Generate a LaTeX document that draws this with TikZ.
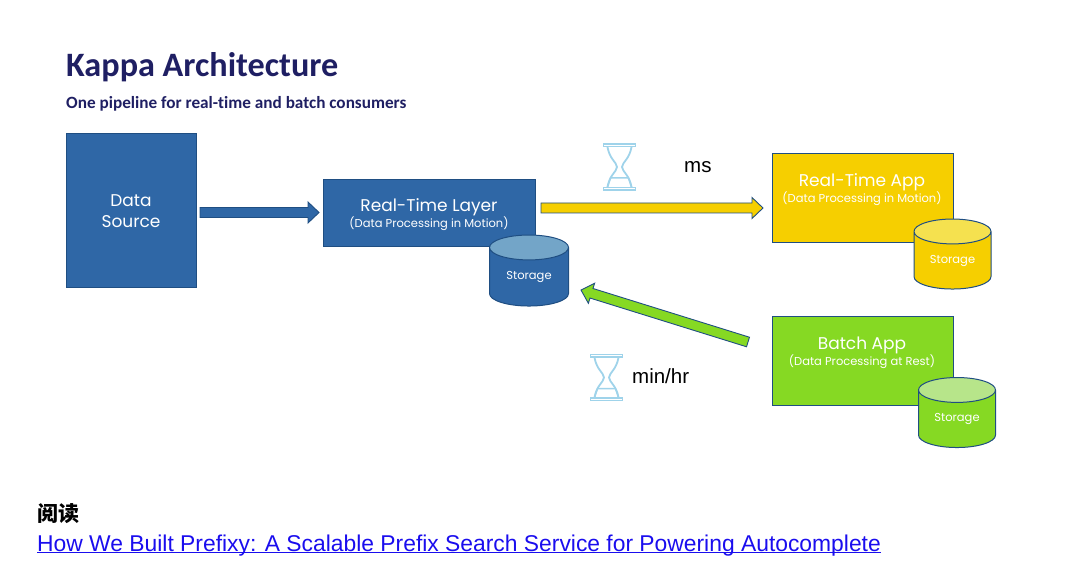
\documentclass[tikz,border=0pt]{standalone}
\usepackage{fontspec}
\setmainfont{Poppins}
\newfontfamily\titlefont[Ligatures=NoCommon]{Carlito}
\newfontfamily\armfont{Liberation Sans}
\newfontfamily\cjk{Noto Sans CJK SC}
\usetikzlibrary{calc}
\usetikzlibrary{shapes.geometric}
\definecolor{kblue}{HTML}{2F67A6}
\definecolor{kblueline}{HTML}{1F4E82}
\definecolor{kbluetop}{HTML}{73A5C8}
\definecolor{kyellow}{HTML}{F6CF00}
\definecolor{kyellowtop}{HTML}{F5E14F}
\definecolor{kgreen}{HTML}{86D923}
\definecolor{kgreentop}{HTML}{B7E58A}
\definecolor{knavy}{HTML}{1F1F63}
\definecolor{kglass}{HTML}{9FD3EA}
\definecolor{klink}{HTML}{1A0DEE}
\newcommand{\px}[1]{\fontsize{#1}{#1}\selectfont}

\begin{document}
\begin{tikzpicture}[x=1pt,y=-1pt]
\tikzstyle{box}=[draw=kblueline, line width=0.9pt, inner sep=0pt, anchor=north west]
\tikzstyle{boxtxt}=[text=white, align=center, inner sep=0pt, font=\px{17}]
\tikzstyle{store}=[draw=kblueline, line width=1pt, shape=cylinder, shape border rotate=90, aspect=0.55, inner sep=0pt, cylinder uses custom fill, text=white, font=\px{11.5}, minimum width=79pt, minimum height=70pt]
\tikzstyle{side}=[font=\armfont\px{20.5}, inner sep=0pt, anchor=base west]
\tikzset{fat/.style={draw=kblueline, line width=0.9pt, fill=#1, to path={
  -- ($(\tikztostart)!5pt!90:(\tikztotarget)$)
  -- ($(\tikztotarget)!11pt!(\tikztostart)!5pt!90:(\tikztotarget)$)
  -- ($(\tikztotarget)!11pt!(\tikztostart)!10.5pt!90:(\tikztotarget)$)
  -- (\tikztotarget)
  -- ($(\tikztotarget)!11pt!(\tikztostart)!10.5pt!-90:(\tikztotarget)$)
  -- ($(\tikztotarget)!11pt!(\tikztostart)!5pt!-90:(\tikztotarget)$)
  -- ($(\tikztostart)!5pt!-90:(\tikztotarget)$)
  -- cycle}}}
\tikzset{hourglass/.pic={
  \draw[kglass, line width=1.8pt] (-16,-23) rectangle (16,-20.5);
  \draw[kglass, line width=1.8pt] (-16,20.5) rectangle (16,23);
  \draw[kglass, line width=1.8pt] (-12,-20) .. controls (-10,-8) and (-3,-5) .. (-2.5,0) .. controls (-3,5) and (-10,8) .. (-12,20);
  \draw[kglass, line width=1.8pt] (12,-20) .. controls (10,-8) and (3,-5) .. (2.5,0) .. controls (3,5) and (10,8) .. (12,20);
  \draw[kglass, line width=1.5pt] (-12,20) -- (-9,11) -- (9,11) -- (12,20);
}}
\useasboundingbox (0,0) rectangle (1076,572);
\node[text=knavy, font=\titlefont\bfseries\px{34.2}, inner sep=0pt, anchor=base west] (title) at (66,76.5) {Kappa Architecture};
\node[text=knavy, font=\titlefont\bfseries\px{17.2}, inner sep=0pt, anchor=base west] (subtitle) at (66,108.5) {One pipeline for real-time and batch consumers};
\node[box, fill=kblue, minimum width=130pt, minimum height=154pt] (src) at (66,133) {};
\node[box, fill=kblue, minimum width=211.5pt, minimum height=67pt] (rt) at (323,179) {};
\node[box, fill=kyellow, minimum width=181.5pt, minimum height=89pt] (rtapp) at (771.7,153) {};
\node[box, fill=kgreen, minimum width=181.5pt, minimum height=89pt] (batch) at (771.7,316) {};
\node[boxtxt] (srctxt) at (131,211) {Data\\[4pt]Source};
\node[boxtxt] (rttxt) at (429,215) {Real-Time Layer\\[-1pt]{\px{11.5}(Data Processing in Motion)}};
\node[boxtxt] (rtapptxt) at (862,190) {Real-Time App\\[-1pt]{\px{11.5}(Data Processing in Motion)}};
\node[boxtxt] (batchtxt) at (862,353) {Batch App\\[-1pt]{\px{11.5}(Data Processing at Rest)}};
\node[store, cylinder body fill=kblue, cylinder end fill=kbluetop, minimum height=71pt] (rtstore) at (529,277) {Storage};
\node[store, cylinder body fill=kyellow, cylinder end fill=kyellowtop, minimum width=77pt] (rtappstore) at (952.5,260.5) {Storage};
\node[store, cylinder body fill=kgreen, cylinder end fill=kgreentop, minimum width=77pt] (batchstore) at (957,419) {Storage};
% free ends of the thick arrows
\coordinate (a1) at (200,212.5);
\coordinate (a2) at (319,212.5);
\coordinate (b1) at (541,208);
\coordinate (b2) at (763,208);
\coordinate (c1) at (748,342);
\coordinate (c2) at (581,290);
\foreach \i/\j/\k in {a1/a2/kblue, b1/b2/kyellow, c1/c2/kgreen}{
\draw[fat=\k] (\i) to (\j);}
\pic at (619.5,167) {hourglass};
\pic at (606.5,377.5) {hourglass};
\node[side] (ms) at (684,173) {ms};
\node[side] (minhr) at (632,383) {min/hr};
\node[font=\cjk\bfseries\px{21}, inner sep=0pt, anchor=base west] (read) at (37,521) {阅读};
\node[text=klink, font=\armfont\px{22.85}, inner sep=0pt, anchor=base west] (link) at (37,551) {\underline{\smash{How We Built Prefixy: A Scalable Prefix Search Service for Powering Autocomplete}}};
\end{tikzpicture}
\end{document}
